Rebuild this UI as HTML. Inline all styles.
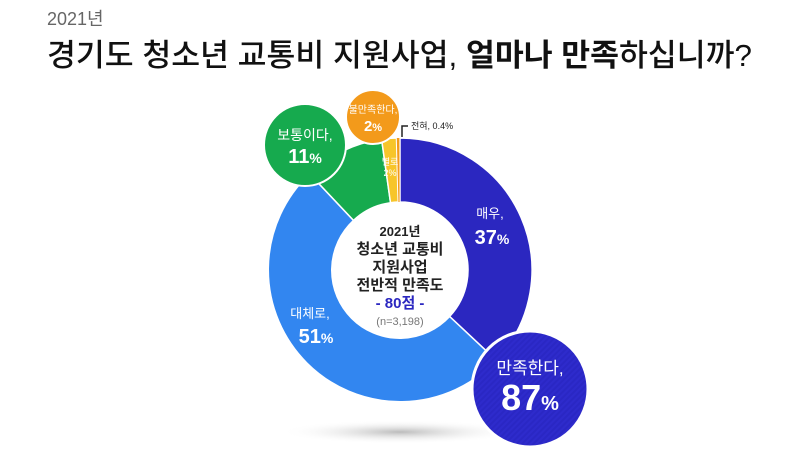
<!DOCTYPE html>
<html><head><meta charset="utf-8"><style>
body{margin:0;background:#fff;}
svg{display:block;font-family:"Liberation Sans","Noto Sans CJK KR",sans-serif;}
</style></head><body>
<svg width="800" height="455" viewBox="0 0 800 455" xmlns="http://www.w3.org/2000/svg">
<defs>
<radialGradient id="sh" cx="0.5" cy="0.5" r="0.5"><stop offset="0" stop-color="#bbb"/><stop offset="1" stop-color="#fff" stop-opacity="0"/></radialGradient>
<pattern id="st" width="4" height="4" patternUnits="userSpaceOnUse" patternTransform="rotate(45)"><rect width="4" height="4" fill="#2a27c4"/><rect width="2" height="4" fill="#2e2bcc"/></pattern>
</defs>
<text x="47" y="25" font-size="18" fill="#666">2021년</text>
<text x="47" y="66" font-size="31" font-weight="500" fill="#111" textLength="705" lengthAdjust="spacingAndGlyphs">경기도 청소년 교통비 지원사업, <tspan font-weight="bold">얼마나 만족</tspan>하십니까?</text>
<ellipse cx="400" cy="432" rx="120" ry="12" fill="url(#sh)"/>
<g stroke="#fff" stroke-width="1.5">
<path d="M400,138 A132,132 0 0 1 496.3,360.3 L449.6,316.5 A68,68 0 0 0 400,202 Z" fill="#2b27c0"/>
<path d="M496.3,360.3 A132,132 0 1 1 309.6,173.8 L353.5,220.4 A68,68 0 1 0 449.6,316.5 Z" fill="#3286f0"/>
<path d="M309.6,173.8 A132,132 0 0 1 381.6,139.3 L390.5,202.7 A68,68 0 0 0 353.5,220.4 Z" fill="#16aa4e"/>
<path d="M381.6,139.3 A132,132 0 0 1 396.5,138 L398.2,202 A68,68 0 0 0 390.5,202.7 Z" fill="#f7c52a"/>
</g>
<path d="M396.8,138 L399.4,138 L399.6,202 L398.4,202 Z" fill="#f39a1b"/>
<circle cx="400" cy="270" r="67" fill="#fff"/>
<g text-anchor="middle" font-weight="bold" fill="#222">
<text x="400" y="236" font-size="13">2021년</text>
<text x="400" y="254" font-size="15">청소년 교통비</text>
<text x="400" y="272" font-size="15">지원사업</text>
<text x="400" y="290" font-size="15">전반적 만족도</text>
<text x="400" y="308" font-size="15" fill="#2b27c0">- 80점 -</text>
<text x="400" y="325" font-size="11" font-weight="normal" fill="#777">(n=3,198)</text>
</g>
<g text-anchor="middle" fill="#fff">
<text x="490" y="218" font-size="13">매우,</text>
<text x="492" y="244" font-size="20" font-weight="bold">37<tspan font-size="14">%</tspan></text>
<text x="310" y="318" font-size="13">대체로,</text>
<text x="316" y="343" font-size="20" font-weight="bold">51<tspan font-size="14">%</tspan></text>
<text x="390" y="165" font-size="9">별로</text>
<text x="390" y="176" font-size="9">2%</text>
</g>
<circle cx="305" cy="145" r="41" fill="#16aa4e" stroke="#fff" stroke-width="2"/>
<circle cx="373" cy="117" r="27" fill="#f39a1b" stroke="#fff" stroke-width="2"/>
<circle cx="530" cy="389" r="58" fill="url(#st)" stroke="#fff" stroke-width="3"/>
<g text-anchor="middle" fill="#fff">
<text x="305" y="140" font-size="14">보통이다,</text>
<text x="305" y="163" font-size="20" font-weight="bold">11<tspan font-size="14">%</tspan></text>
<text x="373" y="113" font-size="10">불만족한다,</text>
<text x="373" y="131" font-size="15" font-weight="bold">2<tspan font-size="11">%</tspan></text>
<text x="530" y="374" font-size="17">만족한다,</text>
<text x="530" y="410" font-size="36" font-weight="bold">87<tspan font-size="20">%</tspan></text>
</g>
<path d="M402,137 L402,126 L408,126" stroke="#222" stroke-width="1.5" fill="none"/>
<text x="411" y="129" font-size="9" fill="#222">전혀, 0.4%</text>
</svg>
</body></html>
